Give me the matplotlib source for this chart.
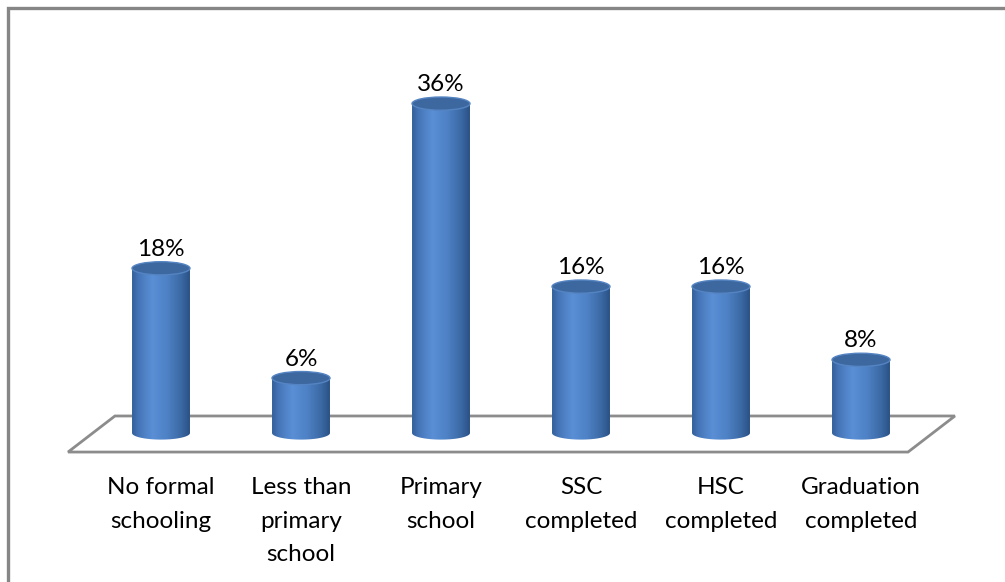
import numpy as np
import matplotlib.pyplot as plt
from matplotlib.patches import Polygon, Ellipse, Rectangle, PathPatch
from matplotlib.path import Path
from matplotlib.colors import LinearSegmentedColormap

categories = ['No formal\nschooling', 'Less than\nprimary\nschool', 'Primary\nschool',
              'SSC\ncompleted', 'HSC\ncompleted', 'Graduation\ncompleted']
values = [18, 6, 36, 16, 16, 8]
labels = ['18%', '6%', '36%', '16%', '16%', '8%']

plt.rcParams['font.family'] = ['Lato', 'DejaVu Sans']

fig = plt.figure(figsize=(10.05, 5.82), dpi=100)
fig.patch.set_facecolor('white')
# outer chart border (runs off right and bottom)
fig.patches.append(Rectangle((8 / 1005, -0.2), 1.2, 1.2 - 8 / 582,
                             transform=fig.transFigure, fill=False,
                             edgecolor='#868686', linewidth=2.4))

ax = fig.add_axes([91 / 1005, 103.25 / 582, 840 / 1005, 457.5 / 582])
ax.set_xlim(-0.5, 5.5)
ax.set_ylim(-5, 45)
ax.axis('off')

# floor of the 3d plot
floor = Polygon([(-0.664, -2.08), (5.336, -2.08), (5.671, 1.86), (-0.329, 1.86)],
                closed=True, facecolor='white', edgecolor='#8c8c8c',
                linewidth=2, zorder=1, clip_on=False)
ax.add_patch(floor)

cmap = LinearSegmentedColormap.from_list('cyl', [
    (0.0, '#34609a'), (0.12, '#4676b8'), (0.35, '#5a8fd6'),
    (0.6, '#4e82c6'), (0.85, '#3b69a4'), (1.0, '#2a5185')])

hw = 0.207   # half width of cylinder (x units)
hh = 0.72    # half height of ellipse (y units)
grad = np.linspace(0, 1, 256).reshape(1, -1)

for i, v in enumerate(values):
    th = np.linspace(np.pi, 2 * np.pi, 60)
    arc = np.column_stack([i + hw * np.cos(th), 0 + hh * np.sin(th)])
    verts = np.vstack([[i - hw, v], arc, [i + hw, v], [i - hw, v]])
    body = Path(verts, closed=True)
    clip = PathPatch(body, transform=ax.transData, facecolor='none', edgecolor='none')
    ax.add_patch(clip)
    im = ax.imshow(grad, cmap=cmap, aspect='auto',
                   extent=(i - hw, i + hw, -hh, v), zorder=2)
    im.set_clip_path(clip)
    top = Ellipse((i, v), 2 * hw, 2 * hh, facecolor='#3c679f',
                  edgecolor='#5584c2', linewidth=1, zorder=3)
    ax.add_patch(top)
    ax.text(i, v + 1.35, labels[i], ha='center', va='baseline',
            fontsize=17.5, color='black', zorder=4)
    ax.text(i, -4.85, categories[i], ha='center', va='top',
            fontsize=17.5, color='black', linespacing=1.72)

fig.savefig('out.png', dpi=100)
